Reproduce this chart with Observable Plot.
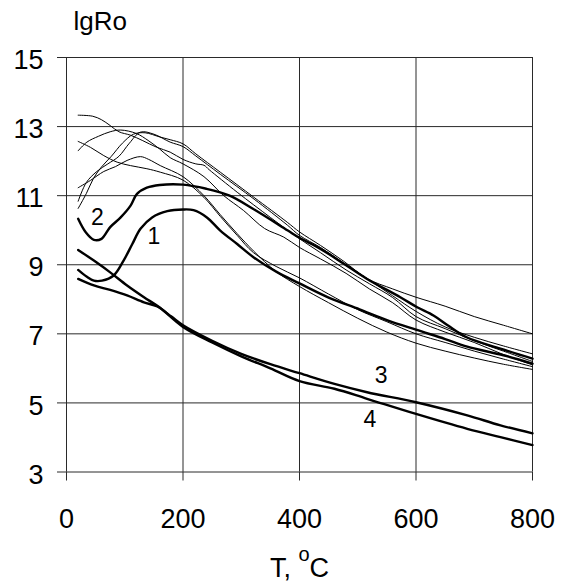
<!DOCTYPE html>
<html><head><meta charset="utf-8">
<script src="https://cdn.jsdelivr.net/npm/d3@7"></script>
<script src="https://cdn.jsdelivr.net/npm/@observablehq/plot@0.6"></script>
<style>body{margin:0;background:#fff;}</style>
</head><body><div id="chart"></div>
<script>
const xTicks = [0, 200, 400, 600, 800];
const yTicks = [3, 5, 7, 9, 11, 13, 15];
const yLabel = "lgRo";
const xLabel = "T, °C";

// thick curves
const curve1 = [[20,8.85],[35,8.65],[47,8.54],[61,8.54],[81,8.69],[98,9.12],[113,9.6],[127,10.04],[147,10.37],[173,10.55],[200,10.6],[218,10.58],[241,10.37],[264,9.99],[293,9.6],[321,9.22],[360,8.8],[400,8.46],[450,8.05],[503,7.71],[550,7.4],[600,7.12],[650,6.85],[688,6.63],[750,6.38],[800,6.14]];
const curve2 = [[20,10.33],[33,9.94],[47,9.72],[60,9.75],[75,10.09],[93,10.37],[110,10.71],[121,11.05],[138,11.23],[160,11.31],[200,11.32],[240,11.2],[280,11.0],[320,10.62],[380,9.99],[400,9.78],[436,9.46],[476,9.03],[516,8.59],[573,8.06],[602,7.77],[630,7.53],[655,7.24],[687,6.9],[745,6.57],[800,6.28]];
const curve3 = [[20,8.59],[47,8.4],[75,8.27],[104,8.11],[133,7.91],[156,7.79],[180,7.5],[200,7.25],[250,6.8],[300,6.42],[350,6.12],[400,5.86],[460,5.55],[516,5.31],[600,5.02],[688,4.64],[745,4.35],[800,4.12]];
const curve4 = [[20,9.43],[47,9.12],[75,8.78],[104,8.4],[133,8.06],[160,7.76],[200,7.2],[250,6.75],[300,6.35],[350,6.0],[400,5.63],[460,5.41],[516,5.12],[600,4.68],[688,4.25],[745,4.01],[800,3.78]];

// thin curves
const thinA = [[20,13.33],[45,13.3],[60,13.2],[75,13.03],[90,12.85],[110,12.75],[130,12.6],[155,12.4],[178,12.26],[200,12.05],[222,11.92],[236,11.88],[245,11.75],[293,11.1],[350,10.37],[396,9.8],[436,9.35],[480,8.85],[520,8.45],[560,8.05],[600,7.5],[650,7.15],[700,6.8],[750,6.5],[800,6.2]];
const thinB = [[20,12.57],[41,12.4],[64,12.16],[87,11.97],[110,11.87],[138,11.78],[161,11.68],[200,11.45],[236,10.95],[264,10.4],[293,9.85],[321,9.35],[360,8.95],[400,8.62],[450,8.15],[500,7.7],[550,7.35],[600,7.0],[650,6.75],[700,6.5],[750,6.27],[800,6.05]];
const thinC = [[20,11.23],[41,11.44],[64,11.7],[84,11.84],[104,12.02],[127,12.13],[141,12.05],[161,11.87],[200,11.55],[236,11.0],[264,10.45],[293,9.9],[321,9.4],[360,8.8],[400,8.37],[450,7.9],[500,7.45],[550,7.05],[600,6.73],[650,6.5],[700,6.3],[750,6.12],[800,5.97]];
const thinD = [[20,10.63],[34,11.06],[46,11.49],[59,11.81],[77,12.14],[96,12.52],[115,12.78],[135,12.82],[160,12.7],[178,12.62],[200,12.5],[222,12.21],[264,11.68],[322,10.95],[379,10.23],[400,9.95],[436,9.56],[476,9.1],[516,8.6],[560,8.3],[600,8.06],[650,7.8],[700,7.5],[750,7.25],[800,7.0]];
const thinE = [[20,10.84],[34,11.38],[52,11.7],[71,11.92],[90,12.14],[108,12.52],[127,12.84],[150,12.78],[178,12.55],[200,12.42],[222,12.15],[264,11.62],[322,10.9],[379,10.15],[400,9.85],[436,9.5],[476,9.05],[516,8.6],[560,8.1],[600,7.65],[650,7.2],[700,6.9],[750,6.65],[800,6.42]];
const thinF = [[20,12.3],[35,12.55],[55,12.72],[75,12.85],[93,12.9],[120,12.8],[140,12.6],[160,12.35],[178,12.1],[200,11.92],[236,11.55],[270,11.0],[304,10.57],[340,10.05],[373,9.8],[400,9.5],[436,9.17],[480,8.75],[520,8.3],[560,7.9],[600,7.4],[650,7.05],[700,6.75],[750,6.4],[800,6.1]];

const curveLabels = ["1", "2", "3", "4"];
const labelT = [150, 53, 540, 521];
const labelV = [9.8, 10.36, 5.79, 4.51];

const toRows = (list) => list.flatMap(([name, pts]) => pts.map(([T, v]) => ({name, T, v})));
const thickRows = toRows([["1", curve1], ["2", curve2], ["3", curve3], ["4", curve4]]);
const thinRows = toRows([["A", thinA], ["B", thinB], ["C", thinC], ["D", thinD], ["E", thinE], ["F", thinF]]);
const labelRows = curveLabels.map((t, i) => ({t, T: labelT[i], v: labelV[i]}));

const font = "'Liberation Sans', Arial, Helvetica, sans-serif";
const gridColor = "#2a2a2a";

const chart = Plot.plot({
  width: 563,
  height: 583,
  marginLeft: 66,
  marginRight: 31,
  marginTop: 57,
  marginBottom: 111.5,
  style: {fontFamily: font, background: "#fff", color: "#000"},
  x: {domain: [0, 800]},
  y: {domain: [3, 15]},
  marks: [
    Plot.gridX(xTicks, {stroke: gridColor, strokeOpacity: 1, strokeWidth: 1}),
    Plot.gridY(yTicks, {stroke: gridColor, strokeOpacity: 1, strokeWidth: 1}),
    Plot.axisX(xTicks, {tickSize: 9, fill: "none", stroke: gridColor, label: null}),
    Plot.axisX(xTicks, {tickSize: 9, stroke: "none", tickPadding: 28, fontSize: 27, fill: "#000", label: null}),
    Plot.axisY(yTicks, {tickSize: 9, fill: "none", stroke: gridColor, label: null}),
    Plot.axisY(yTicks, {tickSize: 9, stroke: "none", tickPadding: 14, fontSize: 27, dy: 3, fill: "#000", label: null}),
    Plot.line(thinRows, {x: "T", y: "v", z: "name", stroke: "#000", strokeWidth: 1, curve: "catmull-rom"}),
    Plot.line(thickRows, {x: "T", y: "v", z: "name", stroke: "#000", strokeWidth: 2.4, curve: "catmull-rom"}),
    Plot.text(labelRows, {x: "T", y: "v", text: "t", fontSize: 23, fill: "#000"}),
    Plot.text([yLabel], {frameAnchor: "top-left", lineAnchor: "middle", textAnchor: "start", dx: 7, dy: -36, fontSize: 26, fill: "#000"}),
    Plot.text([xLabel], {frameAnchor: "bottom", lineAnchor: "middle", dx: 0, dy: 96, fontSize: 27, fill: "#000"})
  ]
});
document.getElementById("chart").appendChild(chart);

// render the degree sign as a raised small "o", as in the original
d3.select(chart).selectAll("text").filter(function() { return this.textContent === xLabel; }).each(function() {
  const t = d3.select(this);
  t.text(null);
  t.append("tspan").text("T, ");
  t.append("tspan").attr("font-size", 20).attr("dy", -16).text("o");
  t.append("tspan").attr("dy", 16).text("C");
});
</script>
</body></html>
